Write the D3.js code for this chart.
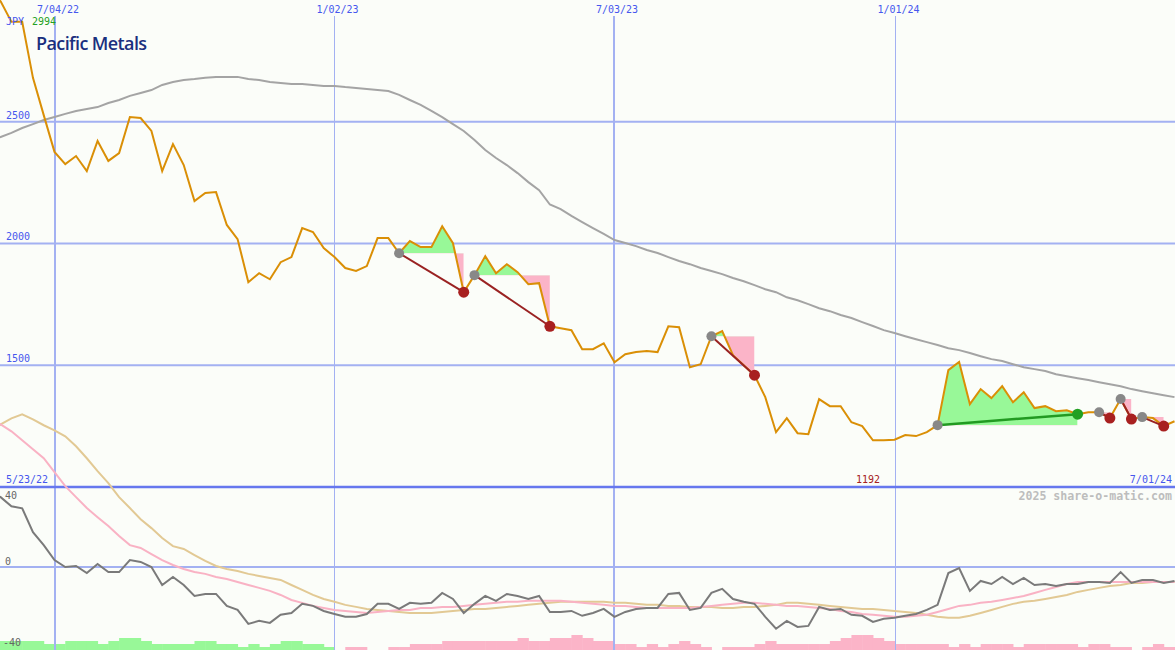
<!DOCTYPE html>
<html><head><meta charset="utf-8">
<script src="https://cdn.jsdelivr.net/npm/d3@7/dist/d3.min.js"></script>
<style>
html,body{margin:0;padding:0;background:#fbfdf9;}
svg{display:block;}
</style></head>
<body>
<svg id="c" width="1175" height="650"></svg>
<script>
// ---------- DATA ----------
const title = "Pacific Metals";
const currency = "JPY";
const firstWeek = "2022-05-23";
const lastWeek = "2024-07-01";
const dateTicks = ["2022-07-04", "2023-01-02", "2023-07-03", "2024-01-01"];
const dateTickLabels = ["7/04/22", "1/02/23", "7/03/23", "1/01/24"];
const dateTickWide = [true, false, true, false];
const priceTicks = [1500, 2000, 2500];
const oscTicks = [40, 0, -40];
const maxLabel = "2994";
const minLabel = "1192";
const startLabel = "5/23/22";
const endLabel = "7/01/24";
const credit = "2025 share-o-matic.com";

// weekly closing prices (JPY)
const price = [3040,2994,2910,2910,2680,2527,2376,2326,2359,2297,2421,2339,2371,2519,2515,2462,2297,2408,2322,2174,
  2207,2211,2076,2018,1841,1878,1853,1923,1944,2063,2047,1981,1944,1899,1887,1907,2022,2022,1960,2010,
  1985,1985,2071,2001,1800,1870,1948,1878,1915,1882,1833,1837,1660,1652,1644,1566,1566,1590,1512,1545,
  1554,1558,1554,1660,1656,1492,1504,1619,1640,1541,1500,1459,1369,1225,1283,1221,1217,1361,1332,1332,
  1266,1250,1192,1192,1194,1213,1209,1225,1254,1480,1513,1340,1402,1365,1414,1348,1389,1324,1332,1311,
  1315,1299,1307,1307,1283,1361,1279,1287,1283,1250,1270];
// long moving average (grey)
const movingAvg = [2421,2437,2454,2474,2490,2507,2519,2532,2544,2552,2560,2577,2589,2606,2618,2630,2651,2663,2671,2675,
  2680,2684,2684,2684,2675,2671,2663,2659,2655,2655,2651,2647,2647,2642,2638,2634,2630,2626,2610,2589,
  2569,2544,2519,2490,2462,2425,2384,2351,2322,2289,2252,2219,2160,2141,2113,2088,2063,2039,2014,2002,
  1989,1973,1961,1944,1928,1915,1899,1887,1874,1858,1845,1829,1812,1800,1779,1767,1751,1734,1722,1706,
  1694,1677,1661,1644,1632,1619,1607,1595,1583,1570,1562,1550,1537,1525,1517,1504,1492,1484,1476,1463,
  1455,1447,1439,1430,1422,1414,1402,1393,1385,1377,1369];
// momentum oscillator (dark grey)
const momentum = [37,34.5,30,29,17.2,10.8,3.4,0,0.5,-3,1.5,-2.5,-2.5,3.4,2.5,0,-8.9,-4.9,-8.9,-14.3,
  -13.3,-13.3,-19.2,-21.2,-28.1,-26.6,-27.6,-23.6,-22.7,-18.2,-19.2,-21.7,-23.2,-24.6,-24.6,-23.2,-18.2,-18.2,-20.7,-17.7,
  -18.2,-17.7,-12.8,-15.8,-22.7,-18.2,-14.3,-16.7,-13.3,-14.3,-15.8,-14.3,-22.2,-22.2,-21.7,-24.1,-22.7,-20.7,-24.6,-22.2,
  -20.7,-20.2,-20.2,-13.3,-12.8,-21.2,-20.2,-12.8,-10.8,-15.8,-17.2,-18.2,-24.6,-30.5,-26.6,-29.6,-29.1,-19.7,-21.2,-20.7,
  -23.6,-24.1,-27.1,-25.6,-25.1,-24.1,-23.2,-21.2,-18.7,-3,-0.5,-11.8,-6.9,-8.4,-4.9,-8.4,-5.4,-8.9,-8.4,-9.4,
  -8.4,-8.4,-7.4,-7.4,-7.9,-2.5,-7.9,-6.4,-6.4,-7.9,-6.9];
// short average of oscillator (pink)
const oscFast = [73.4,70.4,67,62.6,58.1,53.7,46.8,39.9,34.5,29.1,24.6,20.2,15.3,10.8,9.4,6.4,3.4,1,-1,-2.5,
  -3.4,-4.9,-5.9,-7.4,-8.9,-10.3,-11.8,-13.8,-16.3,-17.7,-19.2,-20.2,-21.2,-21.7,-22.2,-22.7,-22.2,-21.7,-21.2,-21.2,
  -20.2,-20.2,-19.7,-19.7,-19.2,-18.7,-18.2,-17.7,-17.2,-17.2,-16.7,-16.7,-16.7,-16.7,-17.2,-17.7,-18.2,-18.7,-19.2,-19.2,
  -19.7,-20.2,-20.2,-20.2,-20.2,-20.2,-19.7,-19.2,-18.7,-18.2,-17.7,-17.7,-18.2,-18.7,-19.2,-19.2,-19.7,-20.2,-20.7,-21.7,
  -22.2,-23.2,-23.6,-24.1,-24.6,-24.6,-24.1,-23.6,-22.2,-20.7,-19.2,-18.7,-17.7,-17.2,-16.3,-15.3,-14.3,-12.8,-11.3,-9.9,
  -8.4,-7.4,-7.4,-7.4,-7.4,-7.4,-7.4,-7.4,-7.4,-7.4,-7.4];
// long average of oscillator (tan)
const oscSlow = [66.5,70.4,73.4,75.4,72.9,70,67.5,64.5,59.6,53.7,47.3,41.4,34.5,29.1,23.6,19.2,14.3,10.3,8.9,5.9,
  3,0.5,-1,-2,-3.4,-4.4,-5.4,-6.4,-8.9,-11.3,-13.8,-15.8,-17.2,-18.7,-19.7,-20.7,-21.2,-21.7,-22.2,-22.7,
  -22.7,-22.7,-22.2,-21.7,-21.2,-20.7,-20.7,-20.2,-19.7,-19.2,-18.7,-18.2,-17.7,-17.2,-17.2,-17.2,-17.2,-17.2,-17.7,-17.7,
  -18.2,-18.7,-18.7,-19.2,-19.2,-19.7,-19.7,-19.7,-20.2,-20.2,-19.7,-19.7,-19.2,-18.7,-17.7,-17.7,-18.2,-18.7,-19.2,-19.7,
  -20.2,-20.7,-20.7,-21.2,-21.7,-22.2,-22.7,-23.6,-24.6,-25.1,-25.1,-24.1,-22.7,-21.2,-19.7,-18.2,-17.2,-16.7,-15.8,-14.8,
  -13.8,-12.3,-11.3,-10.3,-9.4,-8.9,-7.9,-7.9,-7.4,-7.4,-7.4];
// weekly histogram (positive green, negative pink)
const histogram = [3,3,3,3,3,2,2,3,3,3,2,3,4,4,3,2,2,2,2,3,
  3,2,2,1,2,1,2,3,3,2,2,1,0,-1,-1,0,0,-1,-1,-2,
  -2,-2,-3,-3,-3,-3,-3,-3,-3,-4,-3,-3,-4,-4,-5,-4,-3,-3,-2,-2,
  -1,-2,-1,-2,-3,-2,-1,0,-1,-1,-1,-2,-3,-2,-2,-2,-2,-2,-3,-4,
  -5,-5,-4,-3,-2,-2,-2,-2,-2,-1,-2,-1,-2,-2,-2,-1,-2,-2,-2,-2,
  -2,-1,-2,-2,-1,-1,0,-1,-2,-1,-1];
// trades
const tradeEntry = ["2023-02-13","2023-04-03","2023-09-04","2024-01-29","2024-05-13","2024-05-27","2024-06-10"];
const tradeExit  = ["2023-03-27","2023-05-22","2023-10-02","2024-04-29","2024-05-20","2024-06-03","2024-06-24"];

// ---------- DRAW ----------
const W = 1175, H = 650;
const svg = d3.select("#c");
const parse = d3.utcParse("%Y-%m-%d");
const weeks = d3.utcMonday.range(parse(firstWeek), d3.utcDay.offset(parse(lastWeek), 1));
const rows = weeks.map((d, i) => ({d, p: price[i], ma: movingAvg[i], m: momentum[i], f: oscFast[i], s: oscSlow[i], h: histogram[i]}));
const idxOf = s => weeks.findIndex(w => +w === +parse(s));

const x = d3.scaleUtc().domain([parse(dateTicks[0]), parse(dateTicks[3])]).range([54.5, 894.5]);
const y = d3.scaleLinear().domain([1000, 2500]).range([487, 121.7]);
const yo = d3.scaleLinear().domain([0, 40]).range([567, 486]);
const yh = d3.scaleLinear().domain([0, 5]).range([0, 15]);

const GRID = "#a3b1f2", LBL = "#4657ee", MONO = "DejaVu Sans Mono, monospace";

// histogram bars
const step = x(weeks[1]) - x(weeks[0]);
svg.append("g").selectAll("rect").data(rows.filter(r => r.h !== 0)).join("rect")
  .attr("x", r => x(r.d)).attr("width", step + 0.5)
  .attr("y", r => H - yh(Math.abs(r.h))).attr("height", r => yh(Math.abs(r.h)))
  .attr("fill", r => r.h > 0 ? "#98f898" : "#fbb4c8");

// vertical grid
const g = svg.append("g");
dateTicks.forEach((t, i) => {
  const xx = Math.round(x(parse(t))) + (dateTickWide[i] ? 0 : 0.5);
  g.append("line").attr("x1", xx).attr("x2", xx).attr("y1", 16).attr("y2", H)
    .attr("stroke", GRID).attr("stroke-width", dateTickWide[i] ? 2 : 1);
  g.append("text").attr("x", xx + 3).attr("y", 13).attr("text-anchor", "middle")
    .attr("font-family", MONO).attr("font-size", 10).attr("fill", LBL).text(dateTickLabels[i]);
});
// horizontal grid
priceTicks.forEach(v => {
  g.append("line").attr("x1", 0).attr("x2", W).attr("y1", y(v)).attr("y2", y(v))
    .attr("stroke", GRID).attr("stroke-width", 2);
  g.append("text").attr("x", 6).attr("y", y(v) - 3).attr("font-family", MONO).attr("font-size", 10)
    .attr("fill", LBL).text(v);
});
g.append("line").attr("x1", 0).attr("x2", W).attr("y1", yo(0)).attr("y2", yo(0)).attr("stroke", GRID).attr("stroke-width", 2);
g.append("line").attr("x1", 0).attr("x2", W).attr("y1", y(1000)).attr("y2", y(1000)).attr("stroke", "#6677ee").attr("stroke-width", 2.6);

// lower panel labels
const oscLabelY = [499, 565, 646];
oscTicks.forEach((v, i) => {
  g.append("text").attr("x", v < 0 ? 3 : 5).attr("y", oscLabelY[i]).attr("font-family", MONO).attr("font-size", 10)
    .attr("fill", "#666").text(v);
});

// oscillator lines
const lo = k => d3.line().x(r => x(r.d)).y(r => yo(r[k]));
svg.append("path").datum(rows).attr("d", lo("s")).attr("fill", "none").attr("stroke", "#e2c994").attr("stroke-width", 2);
svg.append("path").datum(rows).attr("d", lo("f")).attr("fill", "none").attr("stroke", "#f9b2c4").attr("stroke-width", 2);
svg.append("path").datum(rows).attr("d", lo("m")).attr("fill", "none").attr("stroke", "#7a7a7a").attr("stroke-width", 2);

// trade fills
const defs = svg.append("defs");
const trades = tradeEntry.map((s, i) => {
  const a = idxOf(s), b = idxOf(tradeExit[i]);
  return {a, b, level: price[a], win: price[b] > price[a]};
});
trades.forEach((t, i) => {
  const seg = rows.slice(t.a, t.b + 1);
  const x0 = x(rows[t.a].d), x1 = x(rows[t.b].d), ly = y(t.level);
  defs.append("clipPath").attr("id", "up" + i).append("rect").attr("x", x0).attr("y", 0).attr("width", x1 - x0).attr("height", ly);
  defs.append("clipPath").attr("id", "dn" + i).append("rect").attr("x", x0).attr("y", ly).attr("width", x1 - x0).attr("height", 487 - ly);
  const ar = d3.area().x(r => x(r.d)).y0(ly).y1(r => y(r.p));
  svg.append("path").datum(seg).attr("d", ar).attr("fill", "#98f898").attr("clip-path", `url(#up${i})`);
  svg.append("path").datum(seg).attr("d", ar).attr("fill", "#fbb4c8").attr("clip-path", `url(#dn${i})`);
});

// moving average and price
svg.append("path").datum(rows).attr("d", d3.line().x(r => x(r.d)).y(r => y(r.ma)))
  .attr("fill", "none").attr("stroke", "#a4a4a4").attr("stroke-width", 2);
svg.append("path").datum(rows).attr("d", d3.line().x(r => x(r.d)).y(r => y(r.p)))
  .attr("fill", "none").attr("stroke", "#da8f06").attr("stroke-width", 2);

// trade lines and markers
trades.forEach(t => {
  svg.append("line").attr("x1", x(rows[t.a].d)).attr("y1", y(price[t.a]))
    .attr("x2", x(rows[t.b].d)).attr("y2", y(price[t.b]))
    .attr("stroke", t.win ? "#229a22" : "#9a2222").attr("stroke-width", t.win ? 2.5 : 2);
});
trades.forEach(t => {
  svg.append("circle").attr("cx", x(rows[t.a].d)).attr("cy", y(price[t.a])).attr("r", 5).attr("fill", "#888");
  svg.append("circle").attr("cx", x(rows[t.b].d)).attr("cy", y(price[t.b])).attr("r", 5.5)
    .attr("fill", t.win ? "#22a022" : "#a82020");
});

// texts
svg.append("text").attr("x", 6).attr("y", 25).attr("font-family", MONO).attr("font-size", 10).attr("fill", LBL).text(currency);
svg.append("text").attr("x", 32).attr("y", 25).attr("font-family", MONO).attr("font-size", 10).attr("fill", "#22a022").text(maxLabel);
svg.append("text").attr("x", 36).attr("y", 50).attr("font-family", "Open Sans, sans-serif").attr("font-size", 18)
  .attr("font-weight", 600).attr("fill", "#1a2f7e").attr("letter-spacing", -0.6).text(title);
svg.append("text").attr("x", 6).attr("y", 483).attr("font-family", MONO).attr("font-size", 10).attr("fill", LBL).text(startLabel);
const minIdx = d3.minIndex(price);
svg.append("text").attr("x", x(weeks[minIdx]) - 5).attr("y", 483).attr("text-anchor", "middle")
  .attr("font-family", MONO).attr("font-size", 10).attr("fill", "#a52020").text(minLabel);
svg.append("text").attr("x", 1172).attr("y", 483).attr("text-anchor", "end").attr("font-family", MONO).attr("font-size", 10).attr("fill", LBL).text(endLabel);
svg.append("text").attr("x", 1172).attr("y", 500).attr("text-anchor", "end").attr("font-family", MONO).attr("font-size", 11.6)
  .attr("font-weight", "bold").attr("fill", "#bdbdbd").text(credit);
</script>
</body></html>
